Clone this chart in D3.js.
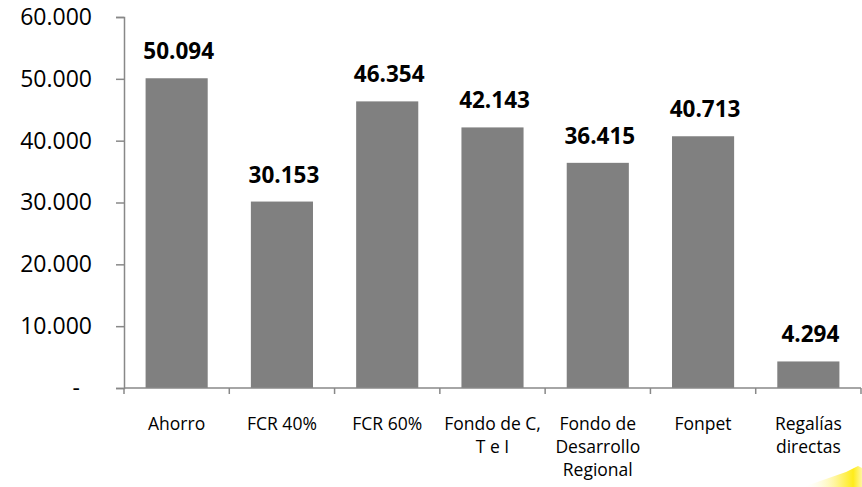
<!DOCTYPE html>
<html>
<head>
<meta charset="utf-8">
<script src="https://cdn.jsdelivr.net/npm/d3@7"></script>
<style>
  html, body { margin: 0; padding: 0; background: #fff; }
  svg { display: block; font-family: "Open Sans", sans-serif; }
</style>
</head>
<body>
<svg id="chart" width="862" height="487"></svg>
<script>
// ---- data ----
const categories = ["Ahorro", "FCR 40%", "FCR 60%", "Fondo de C,\nT e I", "Fondo de\nDesarrollo\nRegional", "Fonpet", "Regalías\ndirectas"];
const values = [50094, 30153, 46354, 42143, 36415, 40713, 4294];
const valueLabels = ["50.094", "30.153", "46.354", "42.143", "36.415", "40.713", "4.294"];
const yTickValues = [0, 10000, 20000, 30000, 40000, 50000, 60000];
const yTickLabels = ["-", "10.000", "20.000", "30.000", "40.000", "50.000", "60.000"];

(function () {
// ---- layout ----
const svg = d3.select("#chart");
const mLeft = 124, mRight = 861, mTop = 17, mBottom = 388;
const axisColor = "#888888";

const x = d3.scaleBand().domain(categories).range([mLeft, mRight]).paddingInner(0.41).paddingOuter(0.205);
const xb = d3.scaleBand().domain(categories).range([mLeft, mRight]).padding(0);
const y = d3.scaleLinear().domain([0, 60000]).range([mBottom, mTop]);

// decorative yellow wedge at bottom right
const defs = svg.append("defs");
const grad = defs.append("linearGradient").attr("id", "yg").attr("x1", "0").attr("x2", "1").attr("y1", "0").attr("y2", "0");
grad.append("stop").attr("offset", "0").attr("stop-color", "#ffffff").attr("stop-opacity", 0);
grad.append("stop").attr("offset", "0.55").attr("stop-color", "#fff59a");
grad.append("stop").attr("offset", "0.85").attr("stop-color", "#ffec1a");
grad.append("stop").attr("offset", "1").attr("stop-color", "#fff7a0");
svg.append("path")
  .attr("d", "M803,487 L846,472 L858,466 L862,468 L862,487 Z")
  .attr("fill", "url(#yg)");

// bars
svg.append("g").selectAll("rect")
  .data(values)
  .join("rect")
  .attr("x", (d, i) => x(categories[i]))
  .attr("width", x.bandwidth())
  .attr("y", d => y(d))
  .attr("height", d => y(0) - y(d))
  .attr("fill", "#808080");

// y axis
const yAxis = d3.axisLeft(y)
  .tickValues(yTickValues)
  .tickSize(8)
  .tickPadding(24)
  .tickFormat((d, i) => yTickLabels[i]);
const gy = svg.append("g").attr("transform", `translate(${mLeft},0)`).call(yAxis);
gy.select(".domain").attr("stroke", axisColor).attr("stroke-width", 1.5);
gy.selectAll(".tick line").attr("stroke", axisColor).attr("stroke-width", 1.5);
gy.selectAll(".tick text")
  .attr("font-family", "'Open Sans', sans-serif")
  .attr("font-size", 23)
  .attr("fill", "#000")
  .attr("dx", (d, i) => yTickLabels[i] === "-" ? -12 : 0);

// x axis line with boundary ticks
const gx = svg.append("g");
gx.append("line")
  .attr("x1", mLeft).attr("x2", mRight)
  .attr("y1", mBottom).attr("y2", mBottom)
  .attr("stroke", axisColor).attr("stroke-width", 1.5);
const boundaries = categories.map(c => xb(c)).concat([mRight]);
gx.selectAll("line.bt")
  .data(boundaries)
  .join("line")
  .attr("class", "bt")
  .attr("x1", d => d).attr("x2", d => d)
  .attr("y1", mBottom).attr("y2", mBottom + 6)
  .attr("stroke", axisColor).attr("stroke-width", 1.5);

// x labels
const xl = svg.append("g");
categories.forEach((c, i) => {
  const t = xl.append("text")
    .attr("x", xb(c) + xb.bandwidth() / 2)
    .attr("y", 430)
    .attr("text-anchor", "middle")
    .attr("font-size", 17.5)
    .attr("fill", "#000");
  c.split("\n").forEach((line, j) => {
    t.append("tspan")
      .attr("x", xb(c) + xb.bandwidth() / 2)
      .attr("dy", j === 0 ? 0 : 23)
      .text(line);
  });
});

// value labels
svg.append("g").selectAll("text")
  .data(values)
  .join("text")
  .attr("x", (d, i) => x(categories[i]) + x.bandwidth() / 2 + 2)
  .attr("y", d => y(d) - 19)
  .attr("text-anchor", "middle")
  .attr("font-size", 22.5)
  .attr("font-weight", "bold")
  .attr("fill", "#000")
  .text((d, i) => valueLabels[i]);
})();
</script>
</body>
</html>
